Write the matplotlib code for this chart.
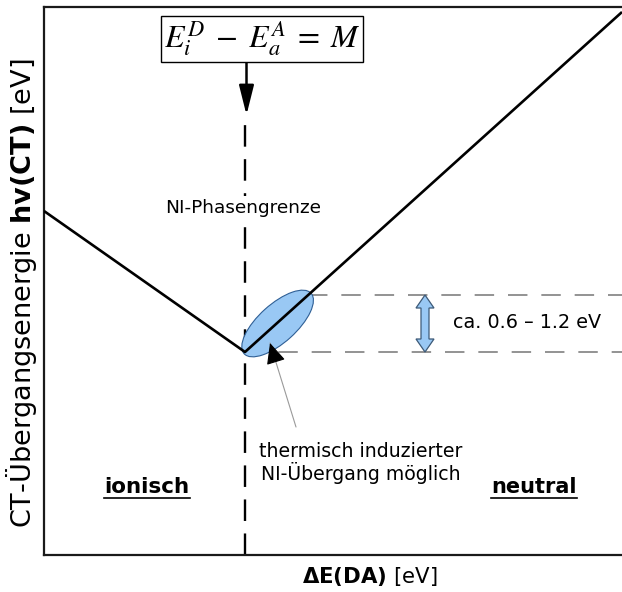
import matplotlib
matplotlib.use('Agg')
import matplotlib.pyplot as plt
from matplotlib.patches import Ellipse, Polygon
from matplotlib.lines import Line2D
import numpy as np

plt.rcParams['font.family'] = ['DejaVu Sans']
plt.rcParams['lines.scale_dashes'] = False

# ---- data (arbitrary energy units, no ticks on the original) ----
delta_e = [0, 201, 578]          # ΔE(DA) positions of the CT curve
hv_ct = [344, 203, 543]          # CT transition energy
boundary_x = 201                 # NI phase boundary
band_low = 203                   # lower dashed level
band_high = 260                  # upper dashed level
x_max = 578
y_max = 548

W, H = 622, 592
fig = plt.figure(figsize=(W / 100, H / 100), dpi=100)
ax = fig.add_axes([44 / W, 37 / H, 578 / W, 548 / H])
ax.set_xlim(0, x_max)
ax.set_ylim(0, y_max)
ax.set_xticks([])
ax.set_yticks([])
for s in ['left', 'top', 'bottom']:
    ax.spines[s].set_linewidth(1.6)
    ax.spines[s].set_color('#1a1a1a')
ax.spines['right'].set_visible(False)


def P(x, y):
    return (x / W, 1 - y / H)


# CT curve
ax.plot(delta_e, hv_ct, color='black', lw=1.9, zorder=5, solid_capstyle='butt')

# ellipse around the crossing region
x_hi = boundary_x + (band_high - band_low) / ((hv_ct[2] - hv_ct[1]) / (delta_e[2] - delta_e[1]))
cx = (boundary_x + x_hi) / 2 + 1
cy = (band_low + band_high) / 2
length = np.hypot(x_hi - boundary_x, band_high - band_low) * 1.06
ang = np.degrees(np.arctan2(band_high - band_low, x_hi - boundary_x))
ax.add_patch(Ellipse((cx, cy), length, 38, angle=ang, facecolor='#99c8f4',
                     edgecolor='#2f5f95', lw=0.8, zorder=3))

# vertical dashed phase boundary
ln = Line2D([boundary_x, boundary_x], [0, 432], color='black', lw=1.7)
ln.set_dashes([15.5, 9])
ax.add_line(ln)

# horizontal dashed levels
for y0, x0 in [(band_low, boundary_x), (band_high, x_hi)]:
    l = Line2D([x0, x_max], [y0, y0], color='#8a8a8a', lw=1.3)
    l.set_dashes([14, 10])
    ax.add_line(l)

# formula box with arrow
fig.text(*P(262, 39), r'$E_i^{D}\;-\;E_a^{A}\;=\;M$', fontsize=23, math_fontfamily='stix',
         ha='center', va='center',
         bbox=dict(boxstyle='square,pad=0.1', facecolor='white', edgecolor='black', lw=1.0))
ax.annotate('', xy=(boundary_x + 1.5, 440), xytext=(boundary_x + 1.5, 495),
            arrowprops=dict(arrowstyle='-|>,head_length=1.8,head_width=0.45',
                            mutation_scale=10, lw=1.8, color='black',
                            shrinkA=0, shrinkB=0))

# double arrow for the band
ax_x = 381
hw, hl, sw = 9, 13, 4
pts = [(ax_x, band_high), (ax_x + hw, band_high - hl), (ax_x + sw, band_high - hl),
       (ax_x + sw, band_low + hl), (ax_x + hw, band_low + hl), (ax_x, band_low),
       (ax_x - hw, band_low + hl), (ax_x - sw, band_low + hl), (ax_x - sw, band_high - hl),
       (ax_x - hw, band_high - hl)]
ax.add_patch(Polygon(pts, closed=True, facecolor='#99c8f4', edgecolor='#3d5a78',
                     lw=0.9, zorder=4))

# pointer to ellipse
tip = (226, 212)
tail = (252, 128)
ax.annotate('', xy=tip, xytext=tail,
            arrowprops=dict(arrowstyle='-', color='#9a9a9a', lw=0.8,
                            shrinkA=0, shrinkB=0))
ax.annotate('', xy=tip, xytext=(tip[0] + (tail[0] - tip[0]) * 0.2,
                                tip[1] + (tail[1] - tip[1]) * 0.2),
            arrowprops=dict(arrowstyle='-|>,head_length=1.3,head_width=0.6',
                            mutation_scale=10, color='black', lw=0.8,
                            shrinkA=0, shrinkB=0), zorder=6)

# texts
fig.text(*P(243, 208), 'NI-Phasengrenze', fontsize=13.3, ha='center', va='center',
         bbox=dict(boxstyle='square,pad=0.15', facecolor='white', edgecolor='none'),
         zorder=5)
fig.text(*P(453, 322), 'ca. 0.6 – 1.2 eV', fontsize=13.8, ha='left', va='center')
fig.text(*P(361, 463), 'thermisch induzierter\nNI-Übergang möglich', fontsize=13.6,
         ha='center', va='center', linespacing=1.05)
t1 = fig.text(*P(147, 487), 'ionisch', fontsize=15.5, fontweight='bold',
              ha='center', va='center')
t2 = fig.text(*P(534, 487), 'neutral', fontsize=15.0, fontweight='bold',
              ha='center', va='center')
fig.text(*P(370, 577), r'$\mathbf{ΔE(DA)}$ [eV]', fontsize=15.3, ha='center', va='center',
         math_fontfamily='dejavusans')
fig.text(*P(22, 293), r'CT-Übergangsenergie $\mathbf{hv(CT)}$ [eV]', fontsize=19.5,
         rotation=90, ha='center', va='center', math_fontfamily='dejavusans')

fig.canvas.draw()
r = fig.canvas.get_renderer()
for t in (t1, t2):
    bb = t.get_window_extent(r)
    yy = (H - 498) / H
    fig.add_artist(Line2D([bb.x0 / W, bb.x1 / W], [yy, yy], transform=fig.transFigure,
                          color='black', lw=1.2))

fig.savefig('out.png', dpi=100)
